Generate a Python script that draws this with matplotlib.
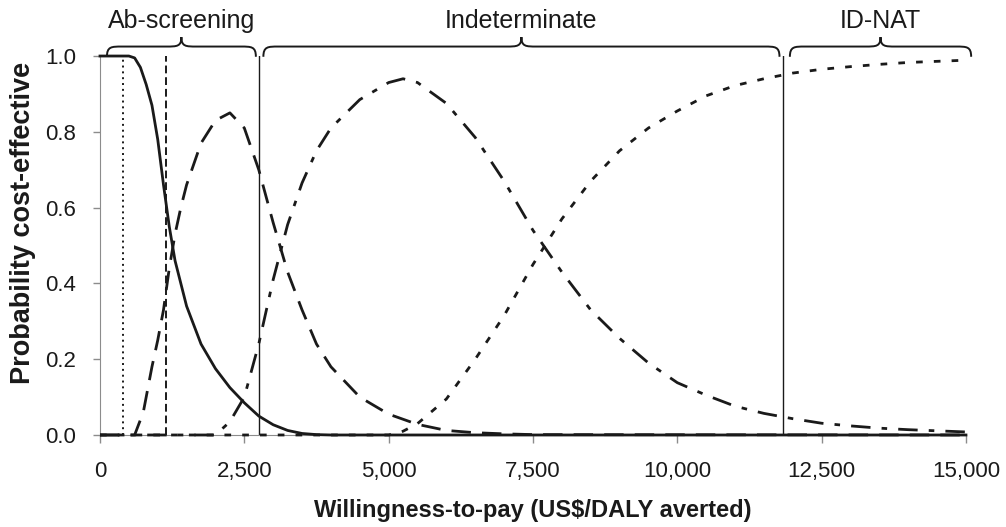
import numpy as np
import matplotlib.pyplot as plt
from matplotlib.path import Path
from matplotlib.patches import PathPatch

plt.rcParams["font.family"] = ["Liberation Sans", "DejaVu Sans"]

# willingness-to-pay grid and probability curves
ab_x = [0, 500, 600, 700, 800, 900, 1000, 1100, 1200, 1300, 1400, 1500, 1750,
        2000, 2250, 2500, 2750, 3000, 3250, 3500, 3750, 4000, 15000]
ab_y = [1.0, 1.0, 0.995, 0.97, 0.925, 0.87, 0.78, 0.66, 0.55, 0.46, 0.40, 0.34,
        0.24, 0.175, 0.125, 0.085, 0.05, 0.027, 0.012, 0.004, 0.001, 0.0, 0.0]

dash_x = [0, 600, 750, 900, 1000, 1100, 1200, 1300, 1400, 1500, 1750, 2000,
          2250, 2500, 2750, 3000, 3250, 3500, 3750, 4000, 4500, 5000, 5500,
          6000, 6500, 7000, 7500, 15000]
dash_y = [0.0, 0.0, 0.06, 0.18, 0.25, 0.33, 0.44, 0.53, 0.60, 0.66, 0.77, 0.83,
          0.85, 0.81, 0.70, 0.56, 0.43, 0.33, 0.24, 0.18, 0.10, 0.055, 0.028,
          0.012, 0.006, 0.003, 0.001, 0.0]

dashdot_x = [0, 2000, 2250, 2500, 2750, 3000, 3250, 3500, 3750, 4000, 4500,
             5000, 5250, 5500, 6000, 6500, 7000, 7500, 8000, 8500, 9000, 9500,
             10000, 10500, 11000, 11500, 12000, 12500, 13000, 13500, 14000,
             14500, 15000]
dashdot_y = [0.0, 0.0, 0.035, 0.10, 0.24, 0.41, 0.555, 0.665, 0.75, 0.81, 0.885,
             0.93, 0.94, 0.93, 0.875, 0.785, 0.67, 0.54, 0.43, 0.33, 0.255, 0.19,
             0.138, 0.105, 0.076, 0.057, 0.043, 0.031, 0.024, 0.018, 0.014,
             0.011, 0.008]

dot_x = [0, 5000, 5250, 5500, 6000, 6500, 7000, 7500, 8000, 8500, 9000, 9500,
         10000, 10500, 11000, 11500, 12000, 12500, 13000, 13500, 14000, 14500,
         15000]
dot_y = [0.0, 0.0, 0.01, 0.03, 0.095, 0.2, 0.315, 0.45, 0.57, 0.67, 0.75, 0.81,
         0.855, 0.895, 0.922, 0.94, 0.955, 0.965, 0.972, 0.978, 0.983, 0.986,
         0.989]

# vertical threshold lines and the regions they bound
thresholds = [400, 1143, 2754, 11830]
regions = ["Ab-screening", "Indeterminate", "ID-NAT"]
region_spans = [(120, 2700), (2830, 11770), (11950, 15090)]

xticks = [0, 2500, 5000, 7500, 10000, 12500, 15000]
yticks = [0.0, 0.2, 0.4, 0.6, 0.8, 1.0]


def brace(ax, x0, x1, yb, ym, yt, r):
    xc = (x0 + x1) / 2
    verts = [
        (x0, yb), (x0, ym), (x0 + 0.3 * r, ym), (x0 + r, ym),
        (xc - r, ym),
        (xc - 0.3 * r, ym), (xc, ym), (xc, yt),
        (xc, ym), (xc + 0.3 * r, ym), (xc + r, ym),
        (x1 - r, ym),
        (x1 - 0.3 * r, ym), (x1, ym), (x1, yb),
    ]
    codes = [Path.MOVETO, Path.CURVE4, Path.CURVE4, Path.CURVE4,
             Path.LINETO,
             Path.CURVE4, Path.CURVE4, Path.CURVE4,
             Path.CURVE4, Path.CURVE4, Path.CURVE4,
             Path.LINETO,
             Path.CURVE4, Path.CURVE4, Path.CURVE4]
    ax.add_patch(PathPatch(Path(verts, codes), fill=False, lw=1.4,
                           edgecolor="#1a1a1a", clip_on=False))


fig = plt.figure(figsize=(10.06, 5.27), dpi=100)
ax = fig.add_axes([0.0994, 0.1746, 0.8608, 0.7191])

lc = "#1a1a1a"
ax.plot(ab_x, ab_y, color=lc, lw=2.0, zorder=4, clip_on=False)
ax.plot(dash_x, dash_y, color=lc, lw=2.0, linestyle=(0, (7, 4)), zorder=4,
        clip_on=False)
ax.plot(dashdot_x, dashdot_y, color=lc, lw=2.0, linestyle=(0, (7, 4, 2, 4)),
        zorder=4, clip_on=False)
ax.plot(dot_x, dot_y, color=lc, lw=2.0, linestyle=(0, (2.4, 4)), zorder=4,
        clip_on=False)

ax.plot([thresholds[0]] * 2, [0, 1], color=lc, lw=1.4, linestyle=(0, (1, 2)))
ax.plot([thresholds[1]] * 2, [0, 1], color=lc, lw=1.4, linestyle=(0, (4, 2)))
ax.plot([thresholds[2]] * 2, [0, 1], color=lc, lw=1.0)
ax.plot([thresholds[3]] * 2, [0, 1], color=lc, lw=1.0)

for name, (x0, x1) in zip(regions, region_spans):
    brace(ax, x0, x1, 0.998, 1.025, 1.05, 260)
    ax.text((x0 + x1) / 2, 1.093, name, ha="center", va="center", fontsize=18,
            color="#1a1a1a")

ax.set_xlim(0, 15000)
ax.set_ylim(0, 1.0)
ax.set_xticks(xticks)
ax.set_xticklabels([f"{v:,}" for v in xticks])
ax.set_yticks(yticks)
ax.set_yticklabels([f"{v:.1f}" for v in yticks])
ax.tick_params(axis="x", direction="out", length=6, width=1, color="#8c8c8c",
               labelsize=16, pad=13, labelcolor="#1a1a1a")
ax.tick_params(axis="y", direction="out", length=5, width=1, color="#8c8c8c",
               labelsize=16, pad=12, labelcolor="#1a1a1a")
for s in ["top", "right"]:
    ax.spines[s].set_visible(False)
ax.spines["left"].set_color("#8c8c8c")
ax.spines["bottom"].set_color("#8c8c8c")

ax.set_xlabel("Willingness-to-pay (US$/DALY averted)", fontsize=17,
              fontweight="bold", labelpad=12, color="#1a1a1a")
ax.set_ylabel("Probability cost-effective", fontsize=19.5, fontweight="bold",
              color="#1a1a1a")
ax.yaxis.set_label_coords(-0.074, 0.56)

plt.savefig("out.png", dpi=100)
